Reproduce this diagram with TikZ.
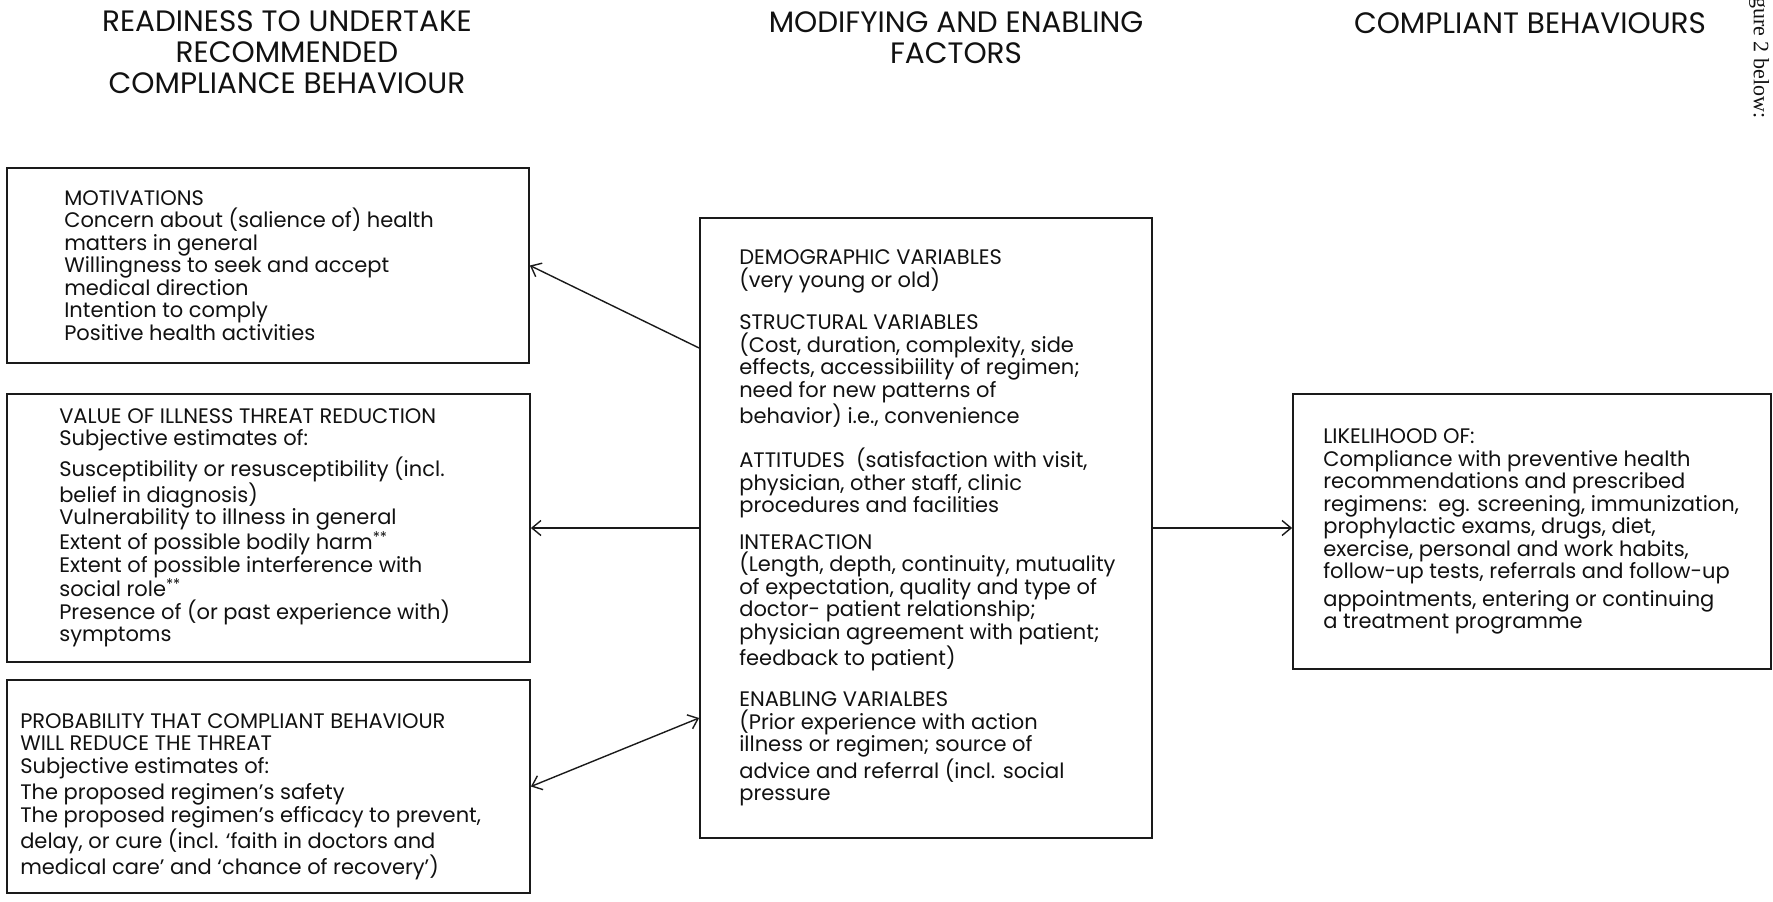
\documentclass[tikz,border=0pt]{standalone}
\usepackage{fontspec}
\setmainfont{Poppins}
\newfontfamily\pageFont{Liberation Serif}
\usetikzlibrary{arrows.meta}
\usetikzlibrary{positioning}
\definecolor{boxColor}{HTML}{1A1A1A}
\definecolor{linkColor}{HTML}{1A1A1A}
\definecolor{textColor}{HTML}{111111}
\def\titleA{READINESS TO UNDERTAKE\\RECOMMENDED\\COMPLIANCE BEHAVIOUR}
\def\titleB{MODIFYING AND ENABLING\\FACTORS}
\def\titleC{COMPLIANT BEHAVIOURS}
\def\textA{MOTIVATIONS\\Concern about (salience of) health\\matters in general\\Willingness to seek and accept\\medical direction\\Intention to comply\\Positive health activities}
\def\textB{VALUE OF ILLNESS THREAT REDUCTION\\Subjective estimates of:\\[4pt]Susceptibility or resusceptibility (incl.\\belief in diagnosis)\\Vulnerability to illness in general\\Extent of possible bodily harm\textsuperscript{**}\\Extent of possible interference with\\social role\textsuperscript{**}\\Presence of (or past experience with)\\symptoms}
\def\textC{PROBABILITY THAT COMPLIANT BEHAVIOUR\\WILL REDUCE THE THREAT\\Subjective estimates of:\\[4pt]The proposed regimen’s safety\\The proposed regimen’s efficacy to prevent,\\delay, or cure (incl. ‘faith in doctors and\\medical care’ and ‘chance of recovery’)}
\def\textD{DEMOGRAPHIC VARIABLES\\(very young or old)\\[20pt]STRUCTURAL VARIABLES\\(Cost, duration, complexity, side\\effects, accessibiility of regimen;\\need for new patterns of\\behavior) i.e., convenience\\[20pt]ATTITUDES\ \ (satisfaction with visit,\\physician, other staff, clinic\\procedures and facilities\\[14pt]INTERACTION\\(Length, depth, continuity, mutuality\\of expectation, quality and type of\\doctor- patient relationship;\\physician agreement with patient;\\feedback to patient)\\[19pt]ENABLING VARIALBES\\(Prior experience with action\\illness or regimen; source of\\advice and referral (incl. social\\pressure}
\def\textE{LIKELIHOOD OF:\\Compliance with preventive health\\recommendations and prescribed\\regimens:\ \ eg. screening, immunization,\\prophylactic exams, drugs, diet,\\exercise, personal and work habits,\\follow-up tests, referrals and follow-up\\[5pt]appointments, entering or continuing\\a treatment programme}
\tikzset{
  boxShape/.style={draw=boxColor, line width=1.8pt, inner sep=0pt},
  boxText/.style={anchor=west, align=left, inner sep=0pt, text=textColor,
    font=\fontsize{21}{22.5}\selectfont},
  titleText/.style={align=center, inner sep=0pt, text=textColor,
    font=\fontsize{29.5}{31}\selectfont},
  linkArrow/.style={draw=linkColor, line width=1.4pt,
    -{Straight Barb[length=9pt,width=15pt]}},
  linkBoth/.style={draw=linkColor, line width=1.4pt,
    {Straight Barb[length=9pt,width=15pt]}-{Straight Barb[length=9pt,width=15pt]}},
}

\begin{document}
\begin{tikzpicture}[x=1pt,y=-1pt]
\useasboundingbox (0, 0) rectangle (1773, 902);

% title layer
\begin{scope}
\node[titleText] (titleReady) at (287, 52.5) {\titleA};
\node[titleText] (titleModify) at (956, 38) {\titleB};
\node[titleText] (titleComply) at (1530, 23) {\titleC};
\node[rotate=-90, anchor=west, inner sep=0pt, text=textColor,
font=\pageFont\fontsize{22}{24}\selectfont] (pageNote) at (1759, -3) {gure 2 below:};
\end{scope}

% box layer
\begin{scope}
\node[boxShape, minimum width=522pt, minimum height=195pt] (motiv) at (268, 265.5) {};
\node[boxShape, minimum width=523pt, minimum height=268pt] (threat) at (268.5, 528) {};
\node[boxShape, minimum width=523pt, minimum height=213pt] (prob) at (268.5, 786.5) {};
\node[boxShape, minimum width=452pt, minimum height=620pt] (centre) at (926, 528) {};
\node[boxShape, minimum width=478pt, minimum height=275pt] (likely) at (1532, 531.5) {};
\end{scope}

% text layer
\begin{scope}
\node[boxText] (motivText) at ([xshift=58pt]motiv.west) {\textA};
\node[boxText] (threatText) at ([xshift=53pt]threat.west) {\textB};
\node[boxText] (probText) at ([xshift=14pt, yshift=-10pt]prob.west) {\textC};
\node[boxText] (centreText) at ([xshift=40pt]centre.west) {\textD};
\node[boxText] (likelyText) at ([xshift=31pt]likely.west) {\textE};
\end{scope}

% link layer
\begin{scope}
\draw[linkArrow] ([yshift=180pt]centre.west) -- (motiv.east);
\draw[linkArrow] (centre.west) -- (centre.west -| threat.east);
\draw[linkBoth] (prob.east) -- ([yshift=-190pt]centre.west);
\draw[linkArrow] (centre.east) -- (centre.east -| likely.west);
\end{scope}

\end{tikzpicture}
\end{document}
